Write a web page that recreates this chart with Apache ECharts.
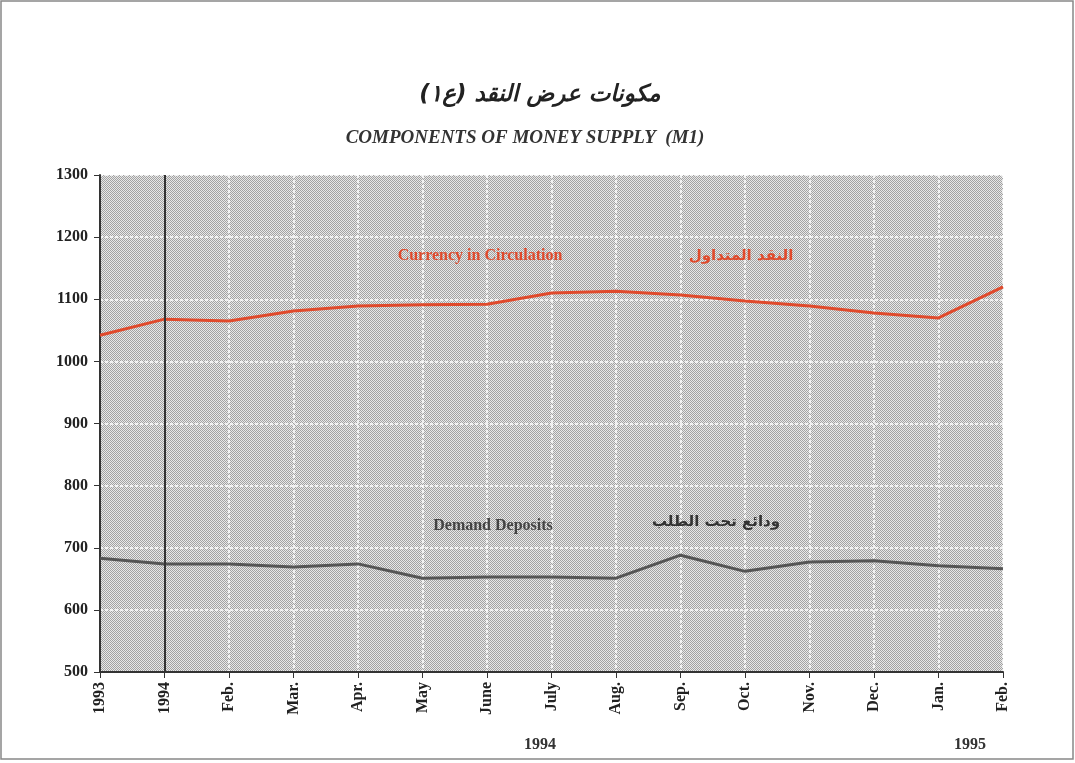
<!DOCTYPE html>
<html>
<head>
<meta charset="utf-8">
<script src="https://cdn.jsdelivr.net/npm/echarts@6/dist/echarts.min.js"></script>
<style>
  html, body { margin: 0; padding: 0; background: #fff; }
  #chart { width: 1075px; height: 763px; }
</style>
</head>
<body>
<div id="chart"></div>
<script>
// month labels, first two points are Dec 1993 and Jan 1994
const months = ['1993', '1994', 'Feb.', 'Mar.', 'Apr.', 'May', 'June', 'July', 'Aug.', 'Sep.', 'Oct.', 'Nov.', 'Dec.', 'Jan.', 'Feb.'];
const currency = [1042, 1068, 1065, 1081, 1089, 1091, 1092, 1110, 1113, 1107, 1097, 1089, 1078, 1070, 1120];
const demand = [683, 674, 674, 669, 674, 651, 653, 653, 651, 688, 662, 677, 679, 671, 666];
const yTicks = [500, 600, 700, 800, 900, 1000, 1100, 1200, 1300];

// stipple fill like the printed screen
const dots = document.createElement('canvas');
dots.width = 2; dots.height = 2;
const g = dots.getContext('2d');
g.fillStyle = '#e8e8e8'; g.fillRect(0, 0, 2, 2);
g.fillStyle = '#a2a2a2';
g.fillRect(0, 0, 1, 1); g.fillRect(1, 1, 1, 1);

const serif = '"Liberation Serif", "DejaVu Serif", serif';
const red = '#e04a2c';
const dark = '#555555';

const chart = echarts.init(document.getElementById('chart'));
chart.setOption({
  backgroundColor: '#fff',
  animation: false,
  grid: {
    left: 100, right: 72, top: 175, bottom: 91,
    show: true,
    backgroundColor: { image: dots, repeat: 'repeat' },
    borderWidth: 0
  },
  xAxis: {
    type: 'category',
    data: months,
    boundaryGap: false,
    axisLine: { lineStyle: { color: '#333', width: 2 } },
    axisTick: { show: true, length: 6, lineStyle: { color: '#333' } },
    axisLabel: {
      rotate: 90, margin: 10, color: '#222',
      fontFamily: serif, fontWeight: 'bold', fontSize: 16
    },
    splitLine: { show: true, lineStyle: { color: '#ffffff', width: 1.5, type: [3, 2] } }
  },
  yAxis: {
    type: 'value',
    min: yTicks[0], max: yTicks[yTicks.length - 1], interval: 100,
    axisLine: { show: true, lineStyle: { color: '#333', width: 2 } },
    axisTick: { show: true, length: 6, lineStyle: { color: '#333' } },
    axisLabel: {
      margin: 12, color: '#222',
      fontFamily: serif, fontWeight: 'bold', fontSize: 16,
      formatter: v => String(v)
    },
    splitLine: { show: true, lineStyle: { color: '#ffffff', width: 1.5, type: [3, 2] } }
  },
  series: [
    {
      name: 'Currency in Circulation',
      type: 'line',
      data: currency,
      symbol: 'none',
      lineStyle: { color: red, width: 3 },
      markLine: {
        silent: true, symbol: 'none', label: { show: false },
        lineStyle: { color: '#333', width: 2, type: 'solid' },
        data: [{ xAxis: '1994' }]
      }
    },
    {
      name: 'Demand Deposits',
      type: 'line',
      data: demand,
      symbol: 'none',
      lineStyle: { color: dark, width: 3 }
    }
  ],
  graphic: [
    { type: 'rect', shape: { x: 1, y: 1, width: 1072, height: 758 },
      style: { fill: 'none', stroke: '#888', lineWidth: 1.5 } },
    { type: 'text', x: 540, y: 95,
      style: { text: 'مكونات عرض النقد (ع١)', fontFamily: '"DejaVu Sans", sans-serif', fontWeight: 'bold',
        fontStyle: 'italic', fontSize: 23, fill: '#222', align: 'center', verticalAlign: 'middle' } },
    { type: 'text', x: 525, y: 138,
      style: { text: 'COMPONENTS OF MONEY SUPPLY  (M1)', fontFamily: serif, fontWeight: 'bold',
        fontStyle: 'italic', fontSize: 19, fill: '#333', align: 'center', verticalAlign: 'middle' } },
    { type: 'text', x: 480, y: 256, z: 100,
      style: { text: 'Currency in Circulation', fontFamily: serif, fontWeight: 'bold',
        fontSize: 16, fill: red, align: 'center', verticalAlign: 'middle' } },
    { type: 'text', x: 741, y: 256, z: 100,
      style: { text: 'النقد المتداول', fontFamily: '"DejaVu Sans", sans-serif', fontWeight: 'bold',
        fontSize: 15, fill: red, align: 'center', verticalAlign: 'middle' } },
    { type: 'text', x: 493, y: 526, z: 100,
      style: { text: 'Demand Deposits', fontFamily: serif, fontWeight: 'bold',
        fontSize: 16, fill: '#444', align: 'center', verticalAlign: 'middle' } },
    { type: 'text', x: 716, y: 522, z: 100,
      style: { text: 'ودائع تحت الطلب', fontFamily: '"DejaVu Sans", sans-serif', fontWeight: 'bold',
        fontSize: 15, fill: '#333', align: 'center', verticalAlign: 'middle' } },
    { type: 'text', x: 540, y: 745,
      style: { text: '1994', fontFamily: serif, fontWeight: 'bold', fontSize: 16, fill: '#333',
        align: 'center', verticalAlign: 'middle' } },
    { type: 'text', x: 970, y: 745,
      style: { text: '1995', fontFamily: serif, fontWeight: 'bold', fontSize: 16, fill: '#333',
        align: 'center', verticalAlign: 'middle' } }
  ]
});
</script>
</body>
</html>
